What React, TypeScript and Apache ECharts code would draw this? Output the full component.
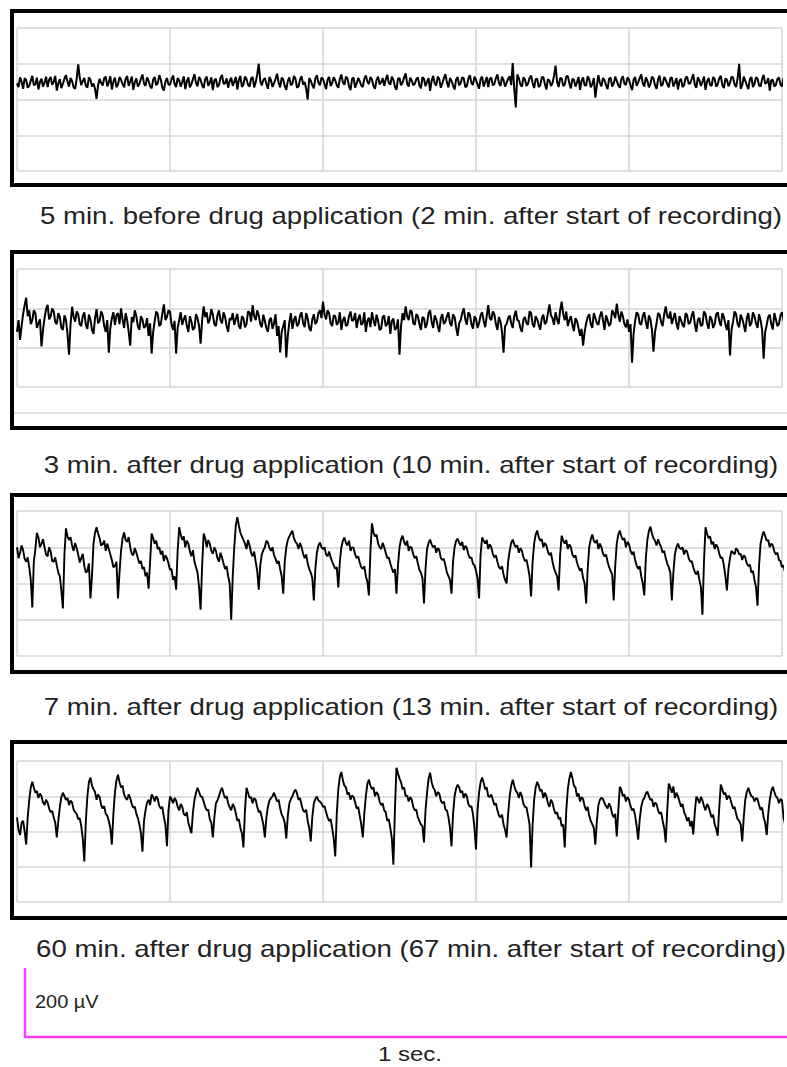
import React, { useEffect, useRef } from "react";
import * as echarts from "echarts";

// Each trace is read at two interleaved sets of times:
// "A" samples at 0, 4, 8 … ms and "B" samples at 2, 6, 10 … ms.
const SAMPLE_MS = 4;
const B_OFFSET_MS = 2;
const X_MAX = 1000;
const X_GRID_STEP = 200;

const panelLabels = [
  "5 min. before drug application (2 min. after start of recording)",
  "3 min. after drug application (10 min. after start of recording)",
  "7 min. after drug application (13 min. after start of recording)",
  "60 min. after drug application (67 min. after start of recording)",
];
const scaleVoltLabel = "200 µV";
const scaleTimeLabel = "1 sec.";

// ---- Trace values (µV) ----
const trace1A = [
  45, 62, 30, 55, 38, 66, 42, 28, 58, 47,
  35, 63, 50, 25, 57, 44, 68, 36, 52, 30,
  98, 40, 60, 33, 55, 45, 2, 58, 39, 64,
  48, 28, 61, 42, 55, 34, 66, 50, 27, 59,
  44, 70, 38, 52, 31, 63, 46, 56, 25, 60,
  41, 67, 35, 53, 49, 29, 62, 43, 71, 37,
  55, 32, 64, 47, 26, 58, 40, 69, 45, 33,
  61, 50, 28, 66, 42, 57, 36, 63, 48, 100,
  39, 60, 30, 54, 46, 72, 34, 56, 27, 62,
  44, 58, 37, 65, 49, 0, 53, 31, 68, 40,
  57, 29, 63, 46, 54, 33, 70, 41, 59, 26,
  61, 45, 52, 35, 67, 43, 56, 30, 64, 48,
  38, 69, 42, 55, 27, 60, 47, 73, 36, 53,
  44, 62, 31, 58, 50, 24, 66, 39, 57, 45,
  71, 34, 52, 28, 63, 46, 59, 37, 68, 41,
  55, 30, 64, 49, 35, 61, 43, 70, 38, 54,
  47, 65, 102, -22, 60, 36, 56, 44, 67, 32,
  58, 40, 63, 28, 53, 46, 95, 35, 59, 42,
  66, 31, 55, 48, 27, 62, 39, 57, 44, 5,
  68, 37, 54, 29, 61, 45, 52, 33, 65, 41,
  56, 26, 63, 48, 70, 36, 53, 44, 59, 30,
  67, 42, 55, 34, 62, 47, 28, 58, 40, 64,
  45, 71, 33, 54, 49, 27, 60, 38, 57, 43,
  66, 32, 56, 46, 61, 35, 100, 40, 52, 29,
  63, 44, 58, 36, 69, 47, 25, 55, 41, 62,
  37, 54, 46,
];
const trace1B = [
  35, 50, 60, 33, 52, 40, 61, 49, 36, 64,
  55, 41, 66, 45, 32, 58, 50, 60, 34, 57,
  62, 52, 38, 62, 36, 30, 40, 46, 60, 37,
  65, 50, 34, 63, 44, 58, 38, 64, 48, 36,
  58, 45, 62, 37, 56, 40, 68, 33, 50, 42,
  56, 44, 60, 36, 65, 51, 34, 57, 46, 63,
  40, 57, 38, 62, 54, 35, 60, 44, 59, 52,
  38, 63, 55, 35, 64, 41, 58, 34, 70, 52,
  55, 44, 63, 35, 58, 47, 61, 38, 52, 40,
  66, 33, 56, 42, 30, 60, 40, 59, 47, 62,
  44, 55, 38, 62, 40, 57, 48, 64, 37, 58,
  33, 60, 39, 58, 50, 63, 38, 55, 42, 60,
  56, 46, 64, 36, 58, 40, 62, 44, 61, 40,
  57, 40, 62, 37, 60, 52, 45, 64, 33, 60,
  48, 60, 39, 56, 40, 62, 35, 58, 46, 64,
  42, 57, 36, 63, 58, 40, 60, 46, 64, 36,
  58, 40, 30, 70, 42, 62, 38, 60, 46, 57,
  35, 62, 44, 57, 38, 66, 50, 60, 38, 64,
  45, 58, 36, 63, 52, 40, 65, 34, 60, 40,
  46, 60, 40, 58, 36, 64, 40, 57, 44, 62,
  40, 55, 38, 60, 45, 62, 34, 64, 40, 56,
  38, 63, 44, 59, 36, 60, 52, 35, 61, 44,
  58, 42, 62, 38, 64, 50, 41, 63, 36, 60,
  40, 58, 37, 64, 42, 60, 30, 64, 40, 57,
  35, 62, 40, 57, 44, 60, 54, 36, 57, 42,
  60, 35,
];

const trace2A = [
  40, 20, 85, 127, 95, 70, 88, 62, 3, 75,
  109, 80, 92, 60, 78, 45, 70, -18, 104, 66,
  85, 55, 90, 48, 72, 35, 98, 68, 82, 40,
  -13, 75, 58, 88, 100, 50, 70, 5, 65, 80,
  45, 72, 55, 30, -15, 68, 85, 60, 110, 78,
  92, 45, -15, 70, 58, 82, 40, 66, 50, 75,
  10, 105, 90, 72, 84, 55, 95, 62, 78, 40,
  70, 58, 86, 48, 75, 60, 90, 108, 70, 82,
  52, 68, 40, 76, 62, 30, -12, 55, -25, 65,
  48, 80, 60, 90, 52, 74, 42, 85, 66, 95,
  117, 72, 88, 55, 80, 64, 45, 78, 58, 92,
  70, 50, 84, 62, 40, 76, 90, 55, 68, 48,
  82, 60, 35, 74, 50, -18, 88, 105, 70, 92,
  58, 80, 45, 75, 62, 95, 50, 72, 40, 85,
  66, 90, 55, 78, 30, 70, 100, 58, 84, 48,
  74, 62, 90, 52, 108, 70, 85, 45, 66, -13,
  60, 82, 50, 94, 68, 40, 78, 58, 88, 52,
  72, 46, 84, 65, 110, 75, 90, 60, 117, 70,
  55, 80, 42, 68, 30, 5, 62, 85, 50, 76,
  58, 92, 45, 70, 62, 88, 112, 66, 80, 52,
  40, -38, 68, 85, 58, 90, 48, 72, -10, 62,
  84, 55, 105, 74, 60, 88, 46, 70, 52, 82,
  64, 92, 40, 76, 58, 86, 48, 72, 60, 90,
  55, 78, 45, -20, 66, 85, 52, 74, 40, 88,
  62, 80, 50, 70, -28, 58, 84, 46, 72, 60,
  90, 55, 68,
];
const trace2B = [
  70, 55, 108, 80, 60, 95, 50, 72, 45, 98,
  72, 100, 65, 88, 50, 82, 35, 60, 78, 92,
  60, 80, 58, 84, 45, 75, 62, 92, 55, 70,
  50, 90, 82, 60, 72, 88, 40, 78, 95, 55,
  80, 50, 75, 62, 40, 92, 55, 88, 70, 95,
  60, 68, 50, 90, 72, 55, 80, 45, 85, 55,
  70, 78, 62, 98, 60, 82, 70, 90, 55, 75,
  88, 72, 55, 80, 52, 92, 66, 80, 95, 60,
  84, 50, 70, 48, 85, 55, 40, 70, 30, 88,
  70, 55, 82, 62, 88, 50, 72, 60, 88, 75,
  85, 95, 62, 82, 58, 90, 70, 55, 80, 68,
  88, 72, 58, 90, 68, 52, 70, 84, 45, 78,
  55, 80, 68, 45, 72, 55, 70, 80, 95, 62,
  85, 60, 78, 50, 88, 65, 82, 55, 75, 60,
  80, 62, 85, 52, 62, 88, 72, 90, 60, 80,
  50, 82, 68, 80, 75, 92, 60, 78, 40, 55,
  75, 62, 80, 70, 50, 72, 62, 92, 60, 80,
  58, 75, 60, 88, 82, 58, 72, 95, 85, 92,
  70, 58, 75, 50, 48, 40, 78, 60, 88, 62,
  80, 70, 82, 55, 95, 75, 84, 92, 60, 72,
  60, 35, 90, 62, 80, 65, 82, 45, 40, 88,
  65, 85, 80, 92, 75, 62, 80, 58, 88, 60,
  82, 60, 70, 55, 92, 62, 80, 50, 85, 68,
  88, 60, 70, 45, 92, 60, 84, 58, 75, 55,
  90, 62, 85, 45, 40, 78, 60, 88, 55, 82,
  70, 85,
];

const trace3A = [
  100, 85, 92, 60, 45, -66, 95, 127, 110, 100,
  75, 88, 60, 50, 20, -69, 152, 120, 105, 112,
  80, 70, 48, 35, -41, 110, 155, 125, 108, 90,
  95, 65, 48, -41, 90, 141, 115, 100, 78, 85,
  55, 40, 20, -14, 138, 110, 95, 80, 62, 70,
  38, 10, -17, 155, 120, 100, 110, 75, 60, 30,
  -72, 138, 100, 110, 82, 90, 60, 72, 40, 20,
  -100, 100, 183, 140, 120, 95, 105, 75, 60, -17,
  80, 100, 113, 90, 78, 55, 40, -28, 100, 130,
  146, 115, 95, 100, 70, 55, 30, -47, 85, 113,
  95, 80, 88, 60, 40, -11, 100, 127, 105, 90,
  98, 70, 58, 40, 20, -33, 166, 130, 110, 95,
  100, 70, 55, 30, -28, 100, 132, 105, 90, 98,
  70, 55, 30, -55, 95, 121, 100, 85, 92, 65,
  50, 20, -28, 100, 124, 105, 92, 98, 70, 55,
  35, -41, 127, 110, 95, 100, 72, 60, 40, 25,
  0, 90, 121, 100, 85, 90, 62, 45, -36, 110,
  146, 118, 100, 105, 78, 60, 30, -19, 132, 110,
  95, 100, 72, 58, 35, 15, -55, 100, 135, 112,
  95, 100, 75, 60, 35, -47, 110, 146, 120, 100,
  108, 80, 65, 40, 20, -33, 120, 157, 125, 105,
  110, 85, 70, 45, -47, 80, 110, 95, 80, 88,
  60, 45, 25, 10, -86, 155, 125, 108, 95, 100,
  70, 50, -19, 70, 85, 97, 80, 65, 72, 48,
  30, 10, -61, 110, 143, 118, 100, 105, 80, 65,
  45, 30, 20,
];
const trace3B = [
  70, 105, 68, 72, 10, 60, 140, 100, 122, 80,
  100, 62, 72, 30, -20, 80, 130, 128, 90, 98,
  58, 82, 30, 55, 20, 140, 138, 105, 118, 110,
  80, 45, 60, 30, 125, 120, 128, 82, 98, 70,
  62, 45, 30, 60, 125, 118, 100, 90, 78, 55,
  40, 20, 90, 135, 130, 118, 88, 92, 45, -10,
  50, 125, 120, 90, 100, 70, 85, 55, 48, 0,
  20, 160, 160, 130, 110, 120, 85, 88, 35, 50,
  92, 118, 98, 100, 68, 62, 20, 60, 120, 138,
  125, 110, 112, 82, 80, 40, 15, 40, 105, 100,
  100, 75, 72, 50, 45, 60, 118, 112, 118, 100,
  80, 75, 45, 48, 5, 90, 140, 135, 100, 112,
  85, 72, 42, 40, 50, 122, 115, 118, 102, 80,
  75, 38, 15, 40, 112, 108, 105, 98, 70, 68,
  30, 10, 60, 118, 112, 115, 104, 80, 72, 50,
  15, 80, 118, 120, 108, 82, 78, 45, 48, 10,
  60, 112, 108, 105, 98, 72, 66, 20, 60, 135,
  128, 122, 112, 88, 85, 42, 20, 80, 118, 120,
  108, 80, 78, 45, 42, 0, 40, 122, 118, 120,
  110, 82, 80, 45, 25, 50, 135, 130, 125, 115,
  90, 88, 50, 48, 0, 70, 145, 138, 118, 122,
  100, 90, 55, 30, 30, 100, 98, 100, 92, 70,
  62, 32, 35, -10, 60, 138, 130, 115, 108, 82,
  72, 20, 40, 90, 80, 92, 82, 78, 55, 52,
  35, -10, 50, 130, 132, 120, 110, 88, 85, 62,
  50, 38,
];

const trace4A = [
  40, -10, 30, -37, 90, 141, 110, 95, 100, 75,
  82, 55, 40, -17, 70, 110, 90, 75, 82, 55,
  35, 15, -85, 100, 153, 120, 90, 98, 65, 50,
  30, -37, 110, 161, 125, 105, 90, 95, 68, 50,
  20, -57, 60, 90, 105, 85, 92, 65, 40, -42,
  99, 80, 88, 60, 70, 45, 25, -5, 90, 124,
  100, 85, 60, 35, -17, 80, 100, 124, 95, 80,
  60, 70, 30, 10, -45, 124, 95, 80, 90, 55,
  40, -17, 70, 95, 110, 85, 65, 40, -20, 80,
  100, 119, 90, 75, 55, 30, -28, 80, 99, 85,
  70, 55, 30, 10, -71, 120, 169, 130, 105, 90,
  98, 65, 45, -17, 100, 147, 120, 100, 105, 75,
  60, 30, 10, -94, 181, 150, 120, 100, 85, 90,
  60, 40, 20, -31, 110, 167, 125, 100, 108, 80,
  62, 40, -42, 100, 133, 110, 95, 100, 70, 50,
  -51, 110, 153, 120, 100, 105, 75, 60, 40, 20,
  -17, 100, 147, 115, 95, 100, 70, 45, -102, 90,
  141, 115, 95, 100, 70, 82, 50, 35, 15, -45,
  120, 169, 130, 100, 85, 92, 60, 45, 20, -37,
  75, 96, 80, 65, 70, 40, -14, 127, 100, 85,
  90, 60, 45, -23, 70, 95, 113, 90, 70, 78,
  50, 30, -31, 136, 110, 95, 100, 70, 55, 30,
  15, -8, 99, 80, 88, 60, 70, 40, 20, -12,
  133, 105, 90, 96, 65, 50, 30, -28, 90, 124,
  100, 85, 92, 62, 40, -10, 90, 127, 100, 80,
  88, 20, 50,
];
const trace4B = [
  5, 25, 0, 40, 125, 125, 115, 108, 82, 90,
  65, 58, 25, 30, 98, 100, 95, 88, 62, 50,
  38, -20, 30, 140, 130, 112, 105, 75, 72, 45,
  10, 50, 145, 140, 130, 95, 105, 78, 70, 38,
  -5, 30, 82, 75, 98, 100, 72, 70, 20, 60,
  92, 95, 70, 78, 50, 55, 10, 55, 110, 112,
  98, 70, 62, 25, 40, 88, 115, 108, 100, 68,
  78, 52, 35, -5, 60, 110, 98, 95, 70, 58,
  20, 40, 88, 100, 98, 90, 48, 25, 45, 92,
  112, 108, 95, 60, 62, 10, 40, 92, 88, 80,
  72, 40, 35, -20, 50, 155, 145, 125, 110, 102,
  82, 70, 20, 50, 135, 130, 125, 112, 85, 80,
  55, 35, -20, 60, 165, 140, 125, 102, 98, 70,
  62, 30, 15, 60, 150, 140, 118, 112, 88, 85,
  60, 10, 50, 122, 125, 115, 108, 78, 72, 10,
  60, 140, 138, 125, 98, 90, 80, 45, 48, 5,
  50, 130, 130, 110, 112, 78, 68, 20, 20, 125,
  130, 118, 110, 80, 90, 62, 55, 40, 20, 60,
  150, 152, 125, 108, 98, 72, 70, 30, 10, 30,
  90, 92, 72, 80, 50, 50, 60, 118, 105, 98,
  72, 65, 15, 35, 88, 108, 100, 92, 82, 60,
  55, 10, 60, 125, 128, 110, 85, 78, 45, 40,
  30, 55, 92, 98, 72, 78, 55, 48, 8, 70,
  120, 110, 102, 80, 70, 35, 20, 40, 112, 110,
  98, 95, 75, 68, 25, 50, 115, 112, 95, 92,
  40, 35,
];

const tracesA = [trace1A, trace2A, trace3A, trace4A];
const tracesB = [trace1B, trace2B, trace3B, trace4B];
const traceWidths = [2, 2, 1.9, 1.9];

// Layout of the four panels (pixels) and their y ranges (µV).
const panels = [
  { gridTop: 28, gridHeight: 143, yMin: -200, yMax: 200, frameTop: 11, frameBottom: 185, labelY: 216 },
  { gridTop: 269, gridHeight: 118, yMin: -100, yMax: 200, frameTop: 252, frameBottom: 428, labelY: 465 },
  { gridTop: 511, gridHeight: 145, yMin: -200, yMax: 200, frameTop: 495, frameBottom: 672, labelY: 707 },
  { gridTop: 761, gridHeight: 141, yMin: -200, yMax: 200, frameTop: 742, frameBottom: 918, labelY: 949 },
];

const GRID_LINE = "#d6d6d6";
const FONT = '"Liberation Sans", Arial, Helvetica, sans-serif';
const TEXT_COLOR = "#222";

function buildPoints(a: number[], b: number[]): number[][] {
  const pts: number[][] = [];
  a.forEach((v, i) => pts.push([i * SAMPLE_MS, v]));
  b.forEach((v, i) => pts.push([i * SAMPLE_MS + B_OFFSET_MS, v]));
  pts.sort((p, q) => p[0] - q[0]);
  return pts;
}

export default function App() {
  const ref = useRef<HTMLDivElement>(null);

  useEffect(() => {
    if (!ref.current) return;
    const chart = echarts.init(ref.current, null, { renderer: "svg" });

    const grids = panels.map((p) => ({
      left: 17,
      width: 765,
      top: p.gridTop,
      height: p.gridHeight,
      show: false,
    }));

    const xAxes = panels.map((_, i) => ({
      type: "value",
      gridIndex: i,
      min: 0,
      max: X_MAX,
      interval: X_GRID_STEP,
      axisLabel: { show: false },
      axisTick: { show: false },
      axisLine: { show: false },
      splitLine: { show: true, lineStyle: { color: GRID_LINE, width: 1.5 } },
    }));

    const yAxes = panels.map((p, i) => ({
      type: "value",
      gridIndex: i,
      min: p.yMin,
      max: p.yMax,
      interval: 100,
      axisLabel: { show: false },
      axisTick: { show: false },
      axisLine: { show: false },
      splitLine: { show: true, lineStyle: { color: GRID_LINE, width: 1.5 } },
    }));

    const series = tracesA.map((a, i) => ({
      type: "line",
      xAxisIndex: i,
      yAxisIndex: i,
      data: buildPoints(a, tracesB[i]),
      showSymbol: false,
      symbol: "none",
      clip: false,
      silent: true,
      lineStyle: { color: "#000", width: traceWidths[i] },
      z: 3,
    }));

    const graphics: any[] = [];
    panels.forEach((p, i) => {
      graphics.push({
        type: "rect",
        z: 10,
        silent: true,
        shape: { x: 12, y: p.frameTop, width: 800, height: p.frameBottom - p.frameTop },
        style: { fill: "none", stroke: "#000", lineWidth: 4 },
      });
      graphics.push({
        type: "text",
        x: 411,
        y: p.labelY,
        scaleX: 1.2,
        z: 10,
        silent: true,
        style: {
          text: panelLabels[i],
          font: `23px ${FONT}`,
          fill: TEXT_COLOR,
          textAlign: "center",
          textVerticalAlign: "middle",
          align: "center",
          verticalAlign: "middle",
        },
      });
    });
    // extra horizontal grid line in panel 2
    graphics.push({
      type: "line",
      z: 1,
      silent: true,
      shape: { x1: 14, y1: 413, x2: 787, y2: 413 },
      style: { stroke: GRID_LINE, lineWidth: 1.5 },
    });
    // scale bar
    graphics.push({
      type: "polyline",
      z: 10,
      silent: true,
      shape: { points: [[25, 968], [25, 1037], [790, 1037]] },
      style: { stroke: "#ff3dff", lineWidth: 2.5, fill: "none" },
    });
    graphics.push({
      type: "text",
      x: 35,
      y: 1001,
      scaleX: 1.05,
      z: 10,
      silent: true,
      style: {
        text: scaleVoltLabel,
        font: `19px ${FONT}`,
        fill: TEXT_COLOR,
        textAlign: "left",
        textVerticalAlign: "middle",
        align: "left",
        verticalAlign: "middle",
      },
    });
    graphics.push({
      type: "text",
      x: 410,
      y: 1054,
      scaleX: 1.2,
      z: 10,
      silent: true,
      style: {
        text: scaleTimeLabel,
        font: `20px ${FONT}`,
        fill: TEXT_COLOR,
        textAlign: "center",
        textVerticalAlign: "middle",
        align: "center",
        verticalAlign: "middle",
      },
    });

    chart.setOption({
      animation: false,
      backgroundColor: "#fff",
      grid: grids,
      xAxis: xAxes,
      yAxis: yAxes,
      series,
      graphic: { elements: graphics },
    });

    return () => chart.dispose();
  }, []);

  return (
    <div
      ref={ref}
      style={{ position: "absolute", left: 0, top: 0, width: 787, height: 1067 }}
    />
  );
}
